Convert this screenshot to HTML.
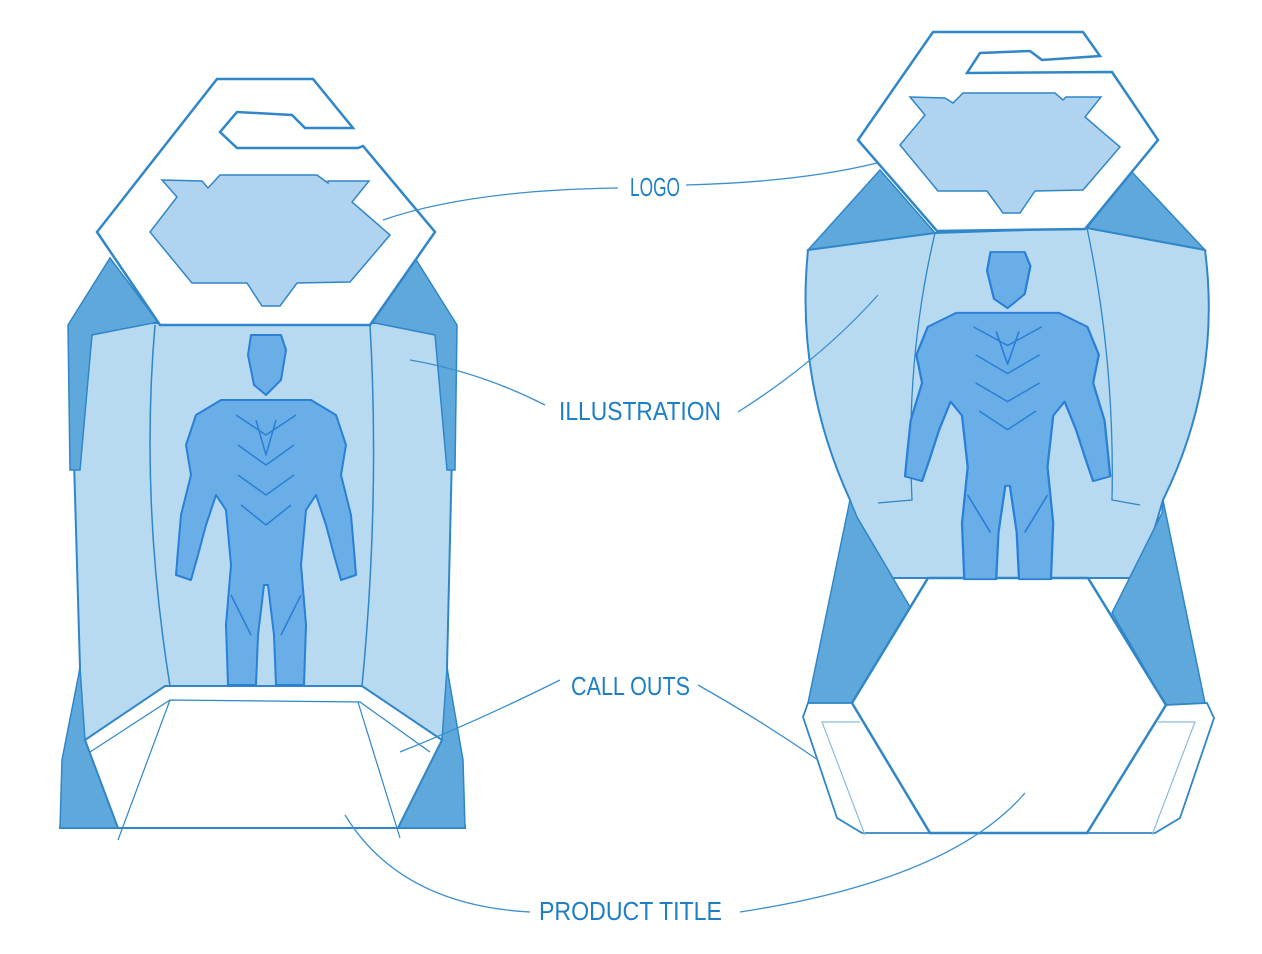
<!DOCTYPE html>
<html><head><meta charset="utf-8"><style>
html,body{margin:0;padding:0;background:#fff;}
svg{display:block}
text{font-family:"Liberation Sans",sans-serif;font-size:26px;fill:#1e7fc6}
</style></head><body>
<svg width="1262" height="954" viewBox="0 0 1262 954" xmlns="http://www.w3.org/2000/svg">
<defs>
<g id="fig" stroke="#2a7fd6" stroke-width="2" stroke-linejoin="round">
  <path fill="#6aaee8" d="M75,0 L105,0 L110,15 L105,45 L90,60 L78,50 L72,20 Z"/>
  <path fill="#6aaee8" d="M45,65 L135,65 L160,80 L170,110 L165,140 L175,180 L178,215 L180,240 L165,245 L158,220 L150,190 L140,160 L130,175 L125,230 L130,290 L128,350 L100,350 L98,300 L92,250 L88,250 L82,300 L80,350 L52,350 L50,290 L55,230 L50,175 L40,160 L30,190 L22,220 L15,245 L0,240 L2,215 L5,180 L15,140 L10,110 L20,80 Z"/>
  <path fill="none" stroke-width="1.5" d="M60,80 L90,100 L120,80 M62,110 L90,130 L118,110 M62,140 L90,160 L118,140 M65,170 L90,190 L115,170 M80,85 L90,120 L100,85 M55,260 L75,300 M125,260 L105,300"/>
</g>
</defs>

<!-- LEFT PACKAGE -->
<polygon points="70,323 455,323 447,668 465,828 60,828 80,668" fill="#b7daf1" stroke="#2f86c8" stroke-width="2"/>
<polygon points="68,325 110,258 158,322 92,335 80,470 70,470" fill="#5fa8dc" stroke="#2f86c8" stroke-width="1.5"/>
<polygon points="457,325 415,258 370,322 435,335 447,470 455,470" fill="#5fa8dc" stroke="#2f86c8" stroke-width="1.5"/>
<polygon points="80,668 85,740 118,828 60,828 62,760" fill="#5fa8dc" stroke="#2f86c8" stroke-width="1.5"/>
<polygon points="447,668 442,740 398,828 465,828 463,760" fill="#5fa8dc" stroke="#2f86c8" stroke-width="1.5"/>
<path d="M155,325 Q140,500 170,686 M370,325 Q380,500 362,686" fill="none" stroke="#2f86c8" stroke-width="1.5"/>
<polygon points="165,686 362,686 442,740 398,828 118,828 85,740" fill="#fff" stroke="#2f86c8" stroke-width="2"/>
<path d="M90,752 L170,700 L360,702 L430,752 M170,700 L118,840 M358,702 L400,838" fill="none" stroke="#2f86c8" stroke-width="1.2"/>
<polygon points="217,79 313,79 353,128 305,128 292,115 237,112 220,132 237,148 358,148 363,146 435,232 370,325 160,325 97,232" fill="#fff" stroke="#2f86c8" stroke-width="2.5"/>
<polygon points="162,180 202,181 208,188 220,175 317,175 328,183 328,181 369,181 352,202 390,235 350,282 297,283 280,306 262,306 247,283 192,283 150,232 177,197" fill="#b0d4f0" stroke="#2f86c8" stroke-width="1.5"/>
<use href="#fig" transform="translate(176,335)"/>

<!-- RIGHT PACKAGE -->
<polygon points="808,250 880,170 935,233" fill="#5fa8dc" stroke="#2f86c8" stroke-width="1.5"/>
<polygon points="1205,250 1130,170 1087,228" fill="#5fa8dc" stroke="#2f86c8" stroke-width="1.5"/>
<path d="M808,250 L935,233 L1087,228 L1205,250 Q1222,380 1163,500 L1140,578 L870,578 L850,500 Q795,380 808,250 Z" fill="#b7daf1" stroke="#2f86c8" stroke-width="2"/>
<path d="M935,233 Q905,360 912,500 L878,503 M1087,228 Q1115,360 1112,500 L1140,505" fill="none" stroke="#2f86c8" stroke-width="1.3"/>
<polygon points="850,500 857,517 910,607 852,703 808,703" fill="#5fa8dc" stroke="#2f86c8" stroke-width="1.5"/>
<polygon points="1163,500 1162,513 1112,613 1166,705 1205,703" fill="#5fa8dc" stroke="#2f86c8" stroke-width="1.5"/>
<polygon points="808,703 852,703 930,833 862,833 837,818 803,717" fill="#fff" stroke="#2f86c8" stroke-width="1.8"/>
<polygon points="1207,703 1166,705 1087,833 1155,833 1180,818 1214,718" fill="#fff" stroke="#2f86c8" stroke-width="1.8"/>
<path d="M860,722 L822,722 L865,835 M1158,722 L1195,722 L1152,835" fill="none" stroke="#8cbbe0" stroke-width="1.2"/>
<polygon points="928,578 1088,578 1166,705 1087,833 930,833 852,703" fill="#fff" stroke="#2f86c8" stroke-width="2.5"/>
<polygon points="933,32 1083,32 1100,56 1042,60 1030,51 980,53 967,73 1112,72 1158,140 1085,229 937,231 858,140" fill="#fff" stroke="#2f86c8" stroke-width="2.5"/>
<polygon points="910,97 945,98 953,103 963,93 1055,93 1063,100 1066,97 1101,97 1085,117 1120,147 1083,190 1035,191 1020,213 1003,213 987,191 938,191 900,145 925,115" fill="#b0d4f0" stroke="#2f86c8" stroke-width="1.5"/>
<use href="#fig" transform="translate(905,252) scale(1.14,0.935)"/>

<!-- leaders -->
<g fill="none" stroke="#3a8fcf" stroke-width="1.3">
<path d="M383,220 Q470,190 618,188"/>
<path d="M686,185 Q800,182 877,163"/>
<path d="M410,360 Q480,372 545,405"/>
<path d="M738,412 Q820,360 878,295"/>
<path d="M400,752 Q480,720 560,680"/>
<path d="M698,685 Q760,720 818,760"/>
<path d="M345,815 Q400,905 530,912"/>
<path d="M740,912 Q950,880 1025,793"/>
</g>
<text x="630" y="196" textLength="50" lengthAdjust="spacingAndGlyphs">LOGO</text>
<text x="559" y="420" textLength="162" lengthAdjust="spacingAndGlyphs">ILLUSTRATION</text>
<text x="571" y="695" textLength="119" lengthAdjust="spacingAndGlyphs">CALL OUTS</text>
<text x="539" y="920" textLength="183" lengthAdjust="spacingAndGlyphs">PRODUCT TITLE</text>
</svg>
</body></html>
